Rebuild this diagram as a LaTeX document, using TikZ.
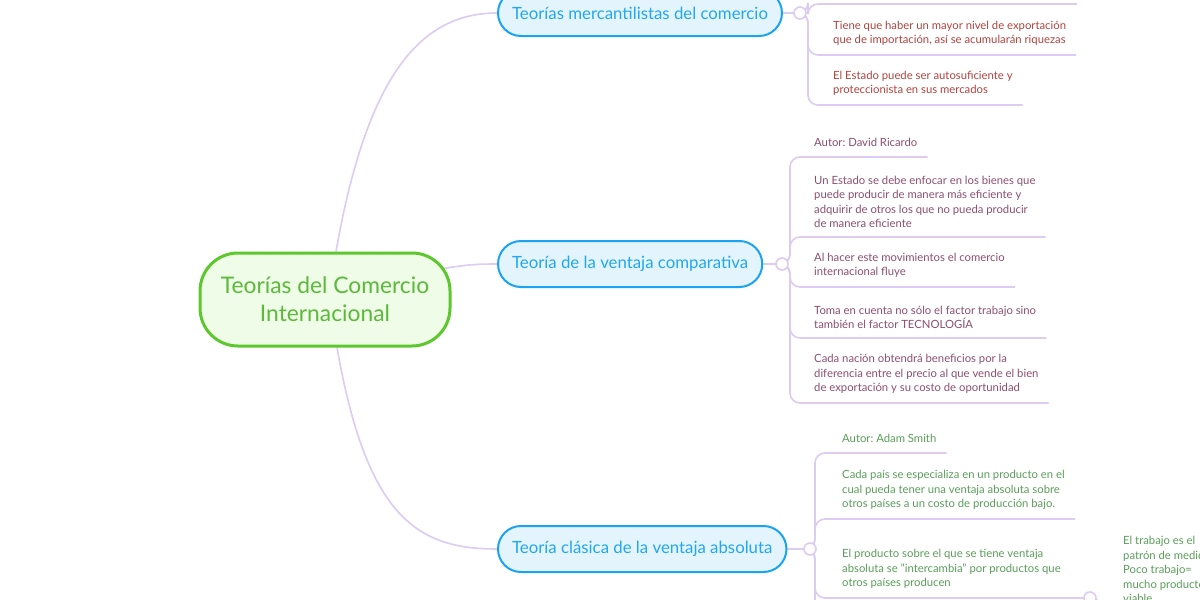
\documentclass[tikz,border=0pt]{standalone}
\usepackage{fontspec}
\setmainfont{Lato}
\usetikzlibrary{calc}
\definecolor{conncol}{HTML}{DCCBF2}
\definecolor{rootborder}{HTML}{5DC72E}
\definecolor{rootfill}{HTML}{EEFCE8}
\definecolor{roottext}{HTML}{5DB93A}
\definecolor{brborder}{HTML}{1AA3F0}
\definecolor{brfill}{HTML}{E3F4FD}
\definecolor{brtext}{HTML}{22A7F0}
\definecolor{merctext}{HTML}{B0433F}
\definecolor{comptext}{HTML}{8C4F6E}
\definecolor{abstext}{HTML}{5A9E5A}
\pgfdeclarelayer{background}
\pgfsetlayers{background,main}
\frenchspacing
\begin{document}
\begin{tikzpicture}[x=1pt,y=-1pt,
  conn/.style={draw=conncol, line width=1.6pt},
  elbow/.style={conn, rounded corners=10pt},
  knot/.style={circle, draw=conncol, fill=white, line width=1.6pt, minimum size=12pt, inner sep=0pt},
  rootbox/.style={draw=rootborder, fill=rootfill, line width=3pt, rounded corners=38pt, minimum width=250pt, minimum height=93pt, text=roottext, font=\fontsize{22.8}{28}\selectfont, align=center},
  branchbox/.style={draw=brborder, fill=brfill, line width=2pt, rounded corners=23pt, minimum height=46pt, inner xsep=14pt, text=brtext, font=\fontsize{16.8}{19}\selectfont, anchor=west},
  leaf/.style={anchor=south west, inner xsep=10pt, inner ysep=9pt, align=left, font=\fontsize{11.3}{14.5}\selectfont}]
\useasboundingbox (0,0) rectangle (1200,600);
\clip (0,0) rectangle (1200,600);

% root and branches
\node[rootbox] (root) at (325,299.5) {Teorías del Comercio\\Internacional};
\node[branchbox] (b1) at (497,13) {Teorías mercantilistas del comercio};
\node[branchbox] (b2) at (497,264) {Teoría de la ventaja comparativa};
\node[branchbox] (b3) at (497,549) {Teoría clásica de la ventaja absoluta};

\node[knot] (k1) at (800,13) {};
\node[knot] (k2) at (782,264) {};
\node[knot] (k3) at (810,549) {};
\node[knot] (k4) at (1090,598) {};

% mercantilist leaves
\coordinate (m1w) at (823,4);
\coordinate (m1e) at (1077,4);
\node[leaf, text=merctext] (m2) at (823,55) {Tiene que haber un mayor nivel de exportación\\que de importación, así se acumularán riquezas};
\node[leaf, text=merctext] (m3) at (823,105) {El Estado puede ser autosuficiente y\\proteccionista en sus mercados};

% comparative leaves
\node[leaf, text=comptext, inner ysep=10.5pt] (c1) at (804,157) {Autor: David Ricardo};
\node[leaf, text=comptext] (c2) at (804,237) {Un Estado se debe enfocar en los bienes que\\puede producir de manera más eficiente y\\adquirir de otros los que no pueda producir\\de manera eficiente};
\node[leaf, text=comptext] (c3) at (804,287) {Al hacer este movimientos el comercio\\internacional fluye};
\node[leaf, text=comptext] (c4) at (804,338) {Toma en cuenta no sólo el factor trabajo sino\\también el factor TECNOLOGÍA};
\node[leaf, text=comptext] (c5) at (804,403) {Cada nación obtendrá beneficios por la\\diferencia entre el precio al que vende el bien\\de exportación y su costo de oportunidad};

% absolute leaves
\node[leaf, text=abstext, inner ysep=10.5pt] (a1) at (832,453) {Autor: Adam Smith};
\node[leaf, text=abstext] (a2) at (832,519) {Cada país se especializa en un producto en el\\cual pueda tener una ventaja absoluta sobre\\otros países a un costo de producción bajo.};
\node[leaf, text=abstext] (a3) at (832,598) {El producto sobre el que se tiene ventaja\\absoluta se "intercambia" por productos que\\otros países producen};
\coordinate (a4) at (832,660);
\node[leaf, text=abstext] (e1) at (1113,612) {El trabajo es el\\patrón de medida\\Poco trabajo=\\mucho producto\\viable};

\begin{pgfonlayer}{background}
\fill[white] (0,0) rectangle (1200,600);
% root to branches
\draw[conn] ($(root.north)+(11,0)$) .. controls +(30,-170) and +(-80,0) .. (b1.west);
\draw[conn] ($(root.east)+(-8,-31)$) .. controls +(25,-4) and +(-20,0) .. (b2.west);
\draw[conn] ($(root.south)+(12,0)$) .. controls +(30,170) and +(-80,0) .. (b3.west);
% branches to knots
\draw[conn] (b1.east) -- (k1.center);
\draw[conn] (b2.east) -- (k2.center);
\draw[conn] (b3.east) -- (k3.center);
% mercantilist
\draw[elbow] (k1.center) -| ($(m1w)+(-15,0)$) -- (m1e);
\draw[elbow] (k1.center) -| ($(m2.south west)+(-15,0)$) -- (m2.south east);
\draw[elbow] (k1.center) -| ($(m3.south west)+(-15,0)$) -- (m3.south east);
% comparative
\draw[elbow] (k2.center) -| ($(c1.south west)+(-14,0)$) -- (c1.south east);
\draw[elbow] (k2.center) -| ($(c2.south west)+(-14,0)$) -- (c2.south east);
\draw[elbow] (k2.center) -| ($(c3.south west)+(-14,0)$) -- (c3.south east);
\draw[elbow] (k2.center) -| ($(c4.south west)+(-14,0)$) -- (c4.south east);
\draw[elbow] (k2.center) -| ($(c5.south west)+(-14,0)$) -- (c5.south east);
% absolute
\draw[elbow] (k3.center) -| ($(a1.south west)+(-17,0)$) -- (a1.south east);
\draw[elbow] (k3.center) -| ($(a2.south west)+(-17,0)$) -- (a2.south east);
\draw[elbow] (k3.center) -| ($(a3.south west)+(-17,0)$) -- (k4.center);
\draw[elbow] (k3.center) -| ($(a4)+(-17,0)$) -- (a4);
\draw[elbow] (k4.center) -| ($(e1.south west)+(-12,0)$) -- (e1.south east);
\end{pgfonlayer}
\end{tikzpicture}
\end{document}
